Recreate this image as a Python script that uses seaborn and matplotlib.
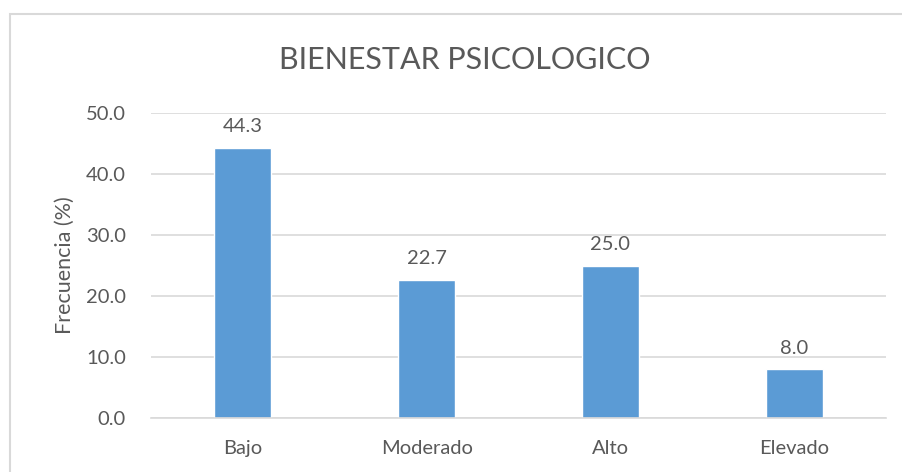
import pandas as pd
import matplotlib.pyplot as plt
import matplotlib.patches as mpatches
import seaborn as sns

# Data
categories = ['Bajo', 'Moderado', 'Alto', 'Elevado']
frequencies = [44.3, 22.7, 25.0, 8.0]

df = pd.DataFrame({'Nivel': categories, 'Frecuencia': frequencies})

sns.set_style('white')
plt.rcParams['font.family'] = ['Lato', 'DejaVu Sans']
text_color = '#595959'

fig = plt.figure(figsize=(9.02, 4.72), dpi=100)
ax = fig.add_axes([0.1674, 0.1144, 0.8149, 0.6462])

sns.barplot(x='Nivel', y='Frecuencia', data=df, color='#5B9BD5',
            width=0.31, saturation=1, ax=ax)

ax.set_ylim(0, 50)
ax.set_yticks([0, 10, 20, 30, 40, 50])
ax.set_yticklabels([f'{v:.1f}' for v in [0, 10, 20, 30, 40, 50]])
ax.set_xlim(-0.5, 3.5)
ax.yaxis.grid(True, color='#D9D9D9', linewidth=1.2)
ax.set_axisbelow(True)
for s in ['top', 'right', 'left']:
    ax.spines[s].set_visible(False)
ax.spines['bottom'].set_color('#D9D9D9')
ax.spines['bottom'].set_linewidth(1.2)
ax.tick_params(axis='both', length=0, labelsize=14.5, colors=text_color)
ax.tick_params(axis='y', pad=18)
ax.tick_params(axis='x', pad=16)

ax.bar_label(ax.containers[0], fmt='%.1f', padding=9, fontsize=14.5, color=text_color)

ax.set_xlabel('')
ax.set_ylabel('Frecuencia (%)', fontsize=15.5, color=text_color, labelpad=8)
fig.text(0.515, 0.873, 'BIENESTAR PSICOLOGICO', ha='center', va='center',
         fontsize=22, color=text_color)

# Chart border (partially cropped in the original)
fig.patches.append(mpatches.Rectangle((10 / 902, -0.1), 1.2, 1 - 14 / 472 + 0.1,
                                      transform=fig.transFigure, fill=False,
                                      edgecolor='#D9D9D9', linewidth=1.5))

fig.savefig('out.png', dpi=100, facecolor='white')
